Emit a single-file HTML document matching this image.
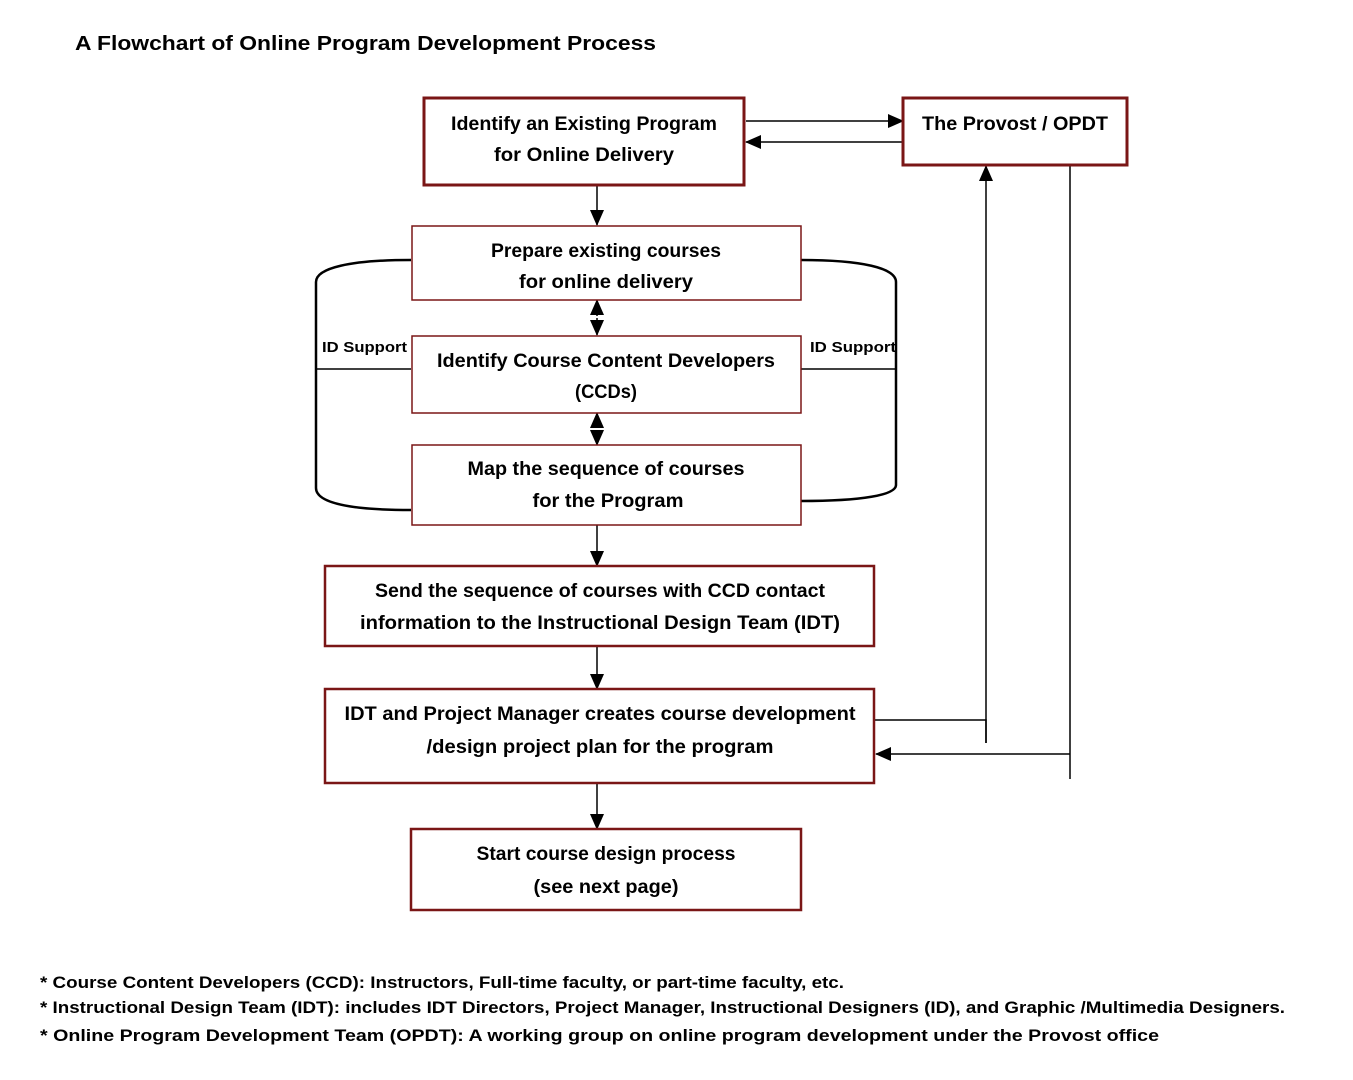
<!DOCTYPE html>
<html><head><meta charset="utf-8"><style>
html,body{margin:0;padding:0;background:#fff;}
svg{display:block;}
.b{font-family:"Liberation Sans",sans-serif;font-weight:bold;fill:#000;}
</style></head><body>
<svg width="1353" height="1080" viewBox="0 0 1353 1080" xmlns="http://www.w3.org/2000/svg">
<defs>
<marker id="a" markerWidth="10" markerHeight="10" refX="9" refY="5" orient="auto" markerUnits="userSpaceOnUse">
<path d="M0,0 L10,5 L0,10 z" fill="#000"/></marker>
<marker id="s" markerWidth="16" markerHeight="14" refX="15" refY="7" orient="auto" markerUnits="userSpaceOnUse">
<path d="M0,0 L16,7 L0,14 z" fill="#000"/></marker>
</defs>
<text class="b" x="75" y="50" font-size="20" textLength="581" lengthAdjust="spacingAndGlyphs">A Flowchart of Online Program Development Process</text>

<g fill="none" stroke="#000" stroke-width="1.5">
<!-- brackets -->
<path d="M411,260 C350,260 316,268 316,282 L316,488 C316,503 350,510 411,510" stroke-width="2.5"/>
<path d="M801,260 C862,260 896,268 896,282 L896,485 C896,495 862,501 801,501" stroke-width="2.5"/>
<line x1="316" y1="369" x2="411" y2="369"/>
<line x1="801" y1="369" x2="896" y2="369"/>
<!-- top arrows -->
<line x1="746" y1="121" x2="903" y2="121" marker-end="url(#s)"/>
<line x1="903" y1="142" x2="746" y2="142" marker-end="url(#s)"/>
<line x1="597" y1="185" x2="597" y2="225" marker-end="url(#s)"/>
<line x1="597" y1="316" x2="597" y2="300" marker-end="url(#s)"/>
<line x1="597" y1="318" x2="597" y2="335" marker-end="url(#s)"/>
<line x1="597" y1="428" x2="597" y2="413" marker-end="url(#s)"/>
<line x1="597" y1="430" x2="597" y2="445" marker-end="url(#s)"/>
<line x1="597" y1="525" x2="597" y2="566" marker-end="url(#s)"/>
<line x1="597" y1="646" x2="597" y2="689" marker-end="url(#s)"/>
<line x1="597" y1="783" x2="597" y2="829" marker-end="url(#s)"/>
<!-- feedback -->
<polyline points="875,720 986,720 986,743"/>
<line x1="986" y1="743" x2="986" y2="166" marker-end="url(#s)"/>
<line x1="1070" y1="165" x2="1070" y2="779"/>
<line x1="1070" y1="754" x2="876" y2="754" marker-end="url(#s)"/>
</g>

<g fill="#fff" stroke="#7a1616">
<rect x="424" y="98" width="320" height="87" stroke-width="3"/>
<rect x="903" y="98" width="224" height="67" stroke-width="3"/>
<rect x="412" y="226" width="389" height="74" stroke-width="1.5"/>
<rect x="412" y="336" width="389" height="77" stroke-width="1.5"/>
<rect x="412" y="445" width="389" height="80" stroke-width="1.5"/>
<rect x="325" y="566" width="549" height="80" stroke-width="2.5"/>
<rect x="325" y="689" width="549" height="94" stroke-width="2.5"/>
<rect x="411" y="829" width="390" height="81" stroke-width="2.5"/>
</g>

<g class="b" font-size="19" text-anchor="middle">
<text x="584" y="130" textLength="266" lengthAdjust="spacingAndGlyphs">Identify an Existing Program</text>
<text x="584" y="161" textLength="180" lengthAdjust="spacingAndGlyphs">for Online Delivery</text>
<text x="1015" y="130" textLength="186" lengthAdjust="spacingAndGlyphs">The Provost / OPDT</text>
<text x="606" y="257" textLength="230" lengthAdjust="spacingAndGlyphs">Prepare existing courses</text>
<text x="606" y="288" textLength="174" lengthAdjust="spacingAndGlyphs">for online delivery</text>
<text x="606" y="367" textLength="338" lengthAdjust="spacingAndGlyphs">Identify Course Content Developers</text>
<text x="606" y="398" textLength="62" lengthAdjust="spacingAndGlyphs">(CCDs)</text>
<text x="606" y="475" textLength="277" lengthAdjust="spacingAndGlyphs">Map the sequence of courses</text>
<text x="608" y="507" textLength="151" lengthAdjust="spacingAndGlyphs">for the Program</text>
<text x="600" y="597" textLength="450" lengthAdjust="spacingAndGlyphs">Send the sequence of courses with CCD contact</text>
<text x="600" y="629" textLength="480" lengthAdjust="spacingAndGlyphs">information to the Instructional Design Team (IDT)</text>
<text x="600" y="720" textLength="511" lengthAdjust="spacingAndGlyphs">IDT and Project Manager creates course development</text>
<text x="600" y="753" textLength="347" lengthAdjust="spacingAndGlyphs">/design project plan for the program</text>
<text x="606" y="860" textLength="259" lengthAdjust="spacingAndGlyphs">Start course design process</text>
<text x="606" y="893" textLength="145" lengthAdjust="spacingAndGlyphs">(see next page)</text>
</g>
<text class="b" x="322" y="352" font-size="15" textLength="85" lengthAdjust="spacingAndGlyphs">ID Support</text>
<text class="b" x="810" y="352" font-size="15" textLength="86" lengthAdjust="spacingAndGlyphs">ID Support</text>

<g class="b" font-size="17">
<text x="40" y="988" textLength="804" lengthAdjust="spacingAndGlyphs">* Course Content Developers (CCD): Instructors, Full-time faculty, or part-time faculty, etc.</text>
<text x="40" y="1013" textLength="1245" lengthAdjust="spacingAndGlyphs">* Instructional Design Team (IDT): includes IDT Directors, Project Manager, Instructional Designers (ID), and Graphic /Multimedia Designers.</text>
<text x="40" y="1041" textLength="1119" lengthAdjust="spacingAndGlyphs">* Online Program Development Team (OPDT): A working group on online program development under the Provost office</text>
</g>
</svg>
</body></html>
